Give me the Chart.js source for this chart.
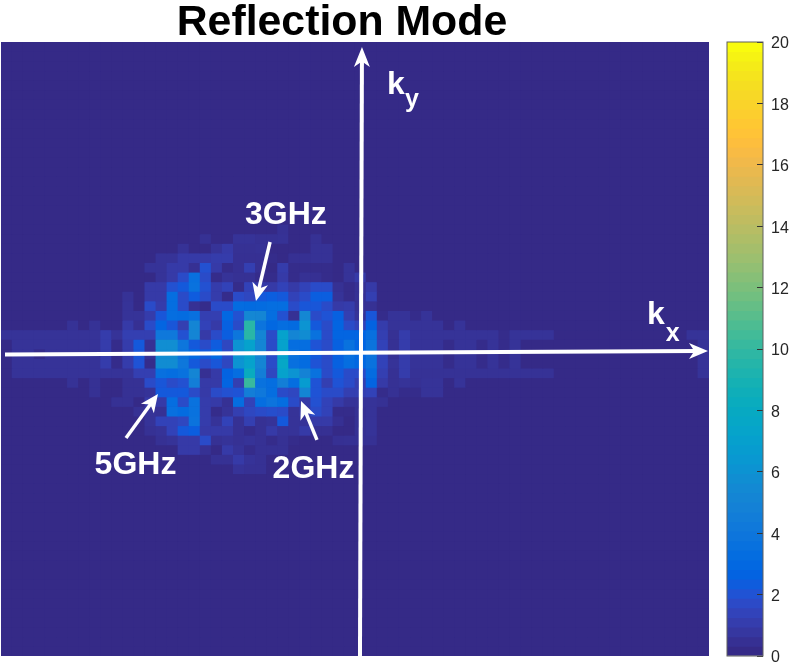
<!DOCTYPE html>
<html>
<head>
<meta charset="utf-8">
<title>Reflection Mode</title>
<script src="https://cdn.jsdelivr.net/npm/chart.js@4"></script>
<style>
  body { margin: 0; background: #fff; }
  #heat { position: absolute; left: 0; top: 0; }
  #bar { position: absolute; left: 700px; top: 0; }
</style>
</head>
<body>
<canvas id="heat" width="789" height="665"></canvas>
<canvas id="bar" width="89" height="665"></canvas>
<script>
const gridSize = 64;
const maxValue = 20;
const colorTicks = [0, 2, 4, 6, 8, 10, 12, 14, 16, 18, 20];

// non-zero part of the 64x64 picture: first row, first column of each row, values
const firstRow = 19;
const rowStarts = [25, 18, 16, 14, 13, 14, 13, 11, 11, 11, 6, 0, 0, 0, 0, 0, 6, 8, 10, 12, 13, 13, 14, 16, 19, 21];
const rowValues = [
  [.34],
  [.34, 0, 0, .42, .42, .34, .34, .38, 0, 0, .34],
  [.38, 0, 0, .42, .8, .34, .34, .38, 0, 0, 0, 0, .38, .38],
  [.42, .42, .8, .8, .8, .9, .9, .3, .3, .3, .1, 0, .3, .3, .38, .38],
  [.42, .42, .8, .8, .3, 1.8, .8, .1, .3, 1.05, .3, 0, .9, .1, .1, .1, .1, 0, .42],
  [.42, .8, 1.6, 3.4, 1.6, .1, .42, .34, .34, .1, .1, .8, .1, .34, .3, .1, 0, .42, .8],
  [.8, .8, 1.8, 2.1, 3.5, 1.8, .9, 1.2, .1, 1.2, .8, .8, 1.2, .8, 1.2, 1.6, 1.6, .34, .1, .34, .8],
  [.38, 0, .8, .8, 3.2, 1.6, 2.2, 1.6, .9, .1, 1.6, 1.4, 2.1, 2.3, 2.1, 1.2, 1.6, 2.3, 2.3, .42, .1, .34, 1.05],
  [.42, 0, 1.6, .9, 3.2, 1.6, .34, .1, 1.6, 1.6, 3.1, 3, 3.1, 3.2, 3.2, 1.6, 2, 2, 1.6, .8, .9, .34, .34],
  [.42, .42, .9, 2, 3.2, 3.1, 3.4, 1.05, 1.05, 2.8, 1.8, 5.2, 5, 3.2, 1.8, .34, 5.2, 1.6, 1.9, 2.4, 1.05, .42, 2, .1, .42, .42, .1, .42],
  [.38, 0, .38, 0, 0, .8, .3, 1.6, 2.6, 2, 1.05, 5, 1.2, .8, 2.4, 1.6, 9.5, 3.7, 2.8, 3.2, 3, 6, 2.1, 1.6, 2.6, 1.6, 1.2, 2.5, .9, .42, .42, .42, .42, .42, 0, .42],
  [.42, .42, .42, .42, .42, .42, .42, .42, .42, .9, .42, 1.05, 1.05, 1.05, 4, 4, 1.8, 5, .8, 1.6, 2.3, 3.8, 9.5, 5, 1.6, 7, 5, 5.5, 3.5, 1.6, 2.6, 2.6, 2.6, 3.4, 1.05, .34, .9, .42, .42, .42, .42, .42, .42, .42, .42, .1, .42, .42, .42, .42, 0, 0, 0, 0, 0, 0, 0, 0, 0, 0, 0, 0, .42, .42],
  [0, .42, .42, .42, .42, .42, .42, .42, .42, .9, .1, .9, 2.1, .34, 5.6, 5.6, 3.8, 2.1, 1.6, 2.2, 1.4, 6, 7, 5, 1.6, 7, 3.2, 3.2, 1.9, 1.6, 2.4, 3.5, 2.6, 3.6, 1.2, .34, .9, .42, .42, .42, .1, .42, .42, .1, .42, .1, .42, 0, 0, 0, 0, 0, 0, 0, 0, 0, 0, 0, 0, 0, 0, 0, 0, .42],
  [0, .42, .42, .1, .42, .42, .42, .42, .42, .9, .1, .9, 2, .34, 5.5, 5.5, 3.7, 2.9, 2.1, 2.9, 1.6, 6, 7, 5, 1.6, 7, 3.6, 3.2, 2.1, 1.6, 2.4, 3.4, 2.8, 3.6, 1.2, .34, .9, .42, .42, .42, .1, .42, .42, .1, .42, .1, .42, 0, 0, 0, 0, 0, 0, 0, 0, 0, 0, 0, 0, 0, 0, 0, 0, .42],
  [0, .42, .42, .42, .42, .42, .42, .42, .42, .9, .1, .9, 1.9, .1, 5.5, 5.5, 3.9, 2.1, 1.6, 2, 1.4, 6, 7, 5, 1.6, 7.5, 3.4, 3.1, 1.9, 1.6, 2.4, 3.2, 2.8, 3.5, 1.2, .42, .9, .42, .42, .42, .1, .42, .42, .1, .42, .1, .42, 0, 0, 0, 0, 0, 0, 0, 0, 0, 0, 0, 0, 0, 0, 0, 0, .42],
  [0, .42, .42, .42, .42, .42, .42, .42, .42, .42, .42, .42, 1.05, 1.05, 3.4, 3.2, 3.5, 5, .3, .8, 2.5, 3.2, 8, 4.5, 1.4, 7, 6, 4.8, 3.5, 1.6, 2.1, 1.6, 1.6, 3.1, 1.05, .34, .9, .38, .38, .38, .38, .38, .38, .38, .38, .38, .38, .38, .38, .38, 0, 0, 0, 0, 0, 0, 0, 0, 0, 0, 0, 0, 0, .42],
  [.38, 0, .34, 0, 0, .34, .34, 1.6, 2, 1.6, 1.8, 4.5, .8, .8, 2.6, 1.05, 10, 3.5, 3.2, 4.5, 3.2, 6.5, 1.9, 1.05, 1.9, 1.6, 1.05, 2.6, .8, .34, .42, .34, .42, .42, 0, .42],
  [.34, 0, 0, .34, .34, .42, 2.1, 2.1, 2.1, 1.6, .8, 1.6, 1.8, 1.9, 4.5, 4, 3.2, 1.6, 1.4, 5, 1.9, 1.6, 1.6, 1.05, 1.05, 1.2, .1, .34, .1, .1, .42, .42],
  [.34, .34, 0, .8, .8, 3.2, 1.6, 3.5, .9, .8, .34, 3.2, 1.2, 3.2, 3.7, 3.2, 1.6, .8, 1.8, 1.2, .8, .42, .42, .42, .34],
  [.34, .42, .34, 3.4, 3.1, 3.5, .9, .1, .42, 1.05, 1.4, 1.6, 1.7, 1.6, .42, .8, 1.6, 1.2, .1, .1, .34, .42],
  [.42, 1.2, 1.2, 1.4, 3.6, .9, .42, 1.2, .34, 1.05, .34, .42, 2.1, .42, .42, .8, .8, .3, 0, .34, .42],
  [.34, .42, 1.2, 2.1, 2.3, .8, .8, .8, .34, .1, .34, .8, .42, .42, .8, .3, .3, 0, 0, .34, .42],
  [.34, .42, .8, .8, 1.6, .34, .42, .34, .42, .34, .1, .34, .1, 0, 0, 0, .3, .34, .34, .34],
  [.8, .8, .34, 0, .8, .42, .1, .34, .34, .34],
  [.34, .34, .8, .42, .34],
  [.42, .34, .34]
];

// MATLAB parula, 64 steps
const parula = [
  [.2081,.1663,.5292],[.2116,.1898,.5777],[.2123,.2138,.6270],[.2081,.2386,.6771],
  [.1959,.2645,.7279],[.1707,.2919,.7792],[.1253,.3242,.8303],[.0591,.3598,.8683],
  [.0117,.3875,.8820],[.0060,.4086,.8828],[.0165,.4266,.8786],[.0329,.4430,.8720],
  [.0498,.4586,.8641],[.0629,.4737,.8554],[.0723,.4887,.8467],[.0779,.5040,.8384],
  [.0793,.5200,.8312],[.0749,.5375,.8263],[.0641,.5570,.8240],[.0488,.5772,.8228],
  [.0343,.5966,.8199],[.0265,.6137,.8135],[.0239,.6287,.8038],[.0231,.6418,.7913],
  [.0228,.6535,.7768],[.0267,.6642,.7607],[.0384,.6743,.7436],[.0590,.6838,.7254],
  [.0843,.6928,.7062],[.1133,.7015,.6859],[.1453,.7098,.6646],[.1801,.7177,.6424],
  [.2178,.7250,.6193],[.2586,.7317,.5954],[.3022,.7376,.5712],[.3482,.7424,.5473],
  [.3953,.7459,.5244],[.4420,.7481,.5033],[.4871,.7491,.4840],[.5300,.7491,.4661],
  [.5709,.7485,.4494],[.6099,.7473,.4337],[.6473,.7456,.4188],[.6834,.7435,.4044],
  [.7184,.7411,.3905],[.7525,.7384,.3768],[.7858,.7356,.3633],[.8185,.7327,.3498],
  [.8507,.7299,.3360],[.8824,.7274,.3217],[.9139,.7258,.3063],[.9450,.7261,.2886],
  [.9739,.7314,.2666],[.9938,.7455,.2403],[.9990,.7653,.2164],[.9955,.7861,.1967],
  [.9880,.8066,.1794],[.9789,.8271,.1633],[.9697,.8481,.1475],[.9626,.8705,.1309],
  [.9589,.8949,.1132],[.9598,.9218,.0948],[.9661,.9514,.0755],[.9763,.9831,.0538]
];

function rgb(c) {
  return "rgb(" + c.map(v => Math.round(v * 255)).join(",") + ")";
}

// the reference is a resampled image, so colours sit between the palette steps
function colorFor(v) {
  const pos = Math.min(gridSize - 1.001, v / maxValue * gridSize);
  const i = Math.floor(pos);
  return rgb(parula[i].map((p, k) => p + (parula[i + 1][k] - p) * (pos - i)));
}

function valueAt(row, col) {
  const values = rowValues[row - firstRow];
  if (!values) return 0;
  return values[col - rowStarts[row - firstRow]] || 0;
}

const columns = [];
for (let c = 0; c < gridSize; c++) columns.push(String(c));

const heatSets = [];
for (let r = 0; r < gridSize; r++) {
  heatSets.push({
    data: columns.map(() => [r, r + 1]),
    backgroundColor: columns.map((name, c) => colorFor(valueAt(r, c))),
    borderWidth: 0,
    barPercentage: 1,
    categoryPercentage: 1,
    grouped: false
  });
}

// annotations, in grid units along the two axes
const axisArrows = [
  { from: [0.36, 32.57], to: [63.91, 32.2], width: 4, head: 19, wing: 8 },
  { from: [32.45, 64], to: [32.63, 0.52], width: 4, head: 20, wing: 8 }
];
const noteArrows = [
  { from: [24.32, 20.85], to: [23.05, 27.0], width: 3.5, head: 18, wing: 8 },
  { from: [11.3, 41.28], to: [14.19, 36.69], width: 3.5, head: 18, wing: 8 },
  { from: [28.56, 41.48], to: [27.12, 37.42], width: 3.5, head: 18, wing: 8 }
];
const labels = [
  { text: "Reflection Mode", at: [30.82, -0.72], size: 42.8, color: "#000", align: "center" },
  { text: "3GHz", at: [25.76, 18.97], size: 32, color: "#fff", align: "center" },
  { text: "5GHz", at: [12.16, 45.03], size: 32, color: "#fff", align: "center" },
  { text: "2GHz", at: [28.25, 45.44], size: 32, color: "#fff", align: "center" },
  { text: "k", at: [58.4, 29.39], size: 32, color: "#fff", align: "left" },
  { text: "x", at: [60.1, 31.16], size: 25, color: "#fff", align: "left" },
  { text: "k", at: [34.89, 5.42], size: 32, color: "#fff", align: "left" },
  { text: "y", at: [36.52, 6.77], size: 25, color: "#fff", align: "left" }
];

const heatDecor = {
  id: "heatDecor",
  beforeDatasetsDraw(chart) {
    const a = chart.chartArea;
    chart.ctx.fillStyle = rgb(parula[0]);
    chart.ctx.fillRect(a.left, a.top, a.right - a.left, a.bottom - a.top);
  },
  afterDraw(chart) {
    const ctx = chart.ctx;
    const px = p => [chart.scales.x.getPixelForValue(p[0] - 0.5), chart.scales.y.getPixelForValue(p[1])];

    axisArrows.concat(noteArrows).forEach(arrow => {
      const [x1, y1] = px(arrow.from);
      const [x2, y2] = px(arrow.to);
      const angle = Math.atan2(y2 - y1, x2 - x1);
      const len = Math.hypot(x2 - x1, y2 - y1);
      ctx.save();
      ctx.translate(x2, y2);
      ctx.rotate(angle);
      ctx.fillStyle = "#fff";
      ctx.fillRect(-len, -arrow.width / 2, len - arrow.head / 2, arrow.width);
      ctx.beginPath();
      ctx.moveTo(0, 0);
      ctx.lineTo(-arrow.head, -arrow.wing);
      ctx.lineTo(-arrow.head * 0.72, 0);
      ctx.lineTo(-arrow.head, arrow.wing);
      ctx.closePath();
      ctx.fill();
      ctx.restore();
    });

    labels.forEach(l => {
      const [x, y] = px(l.at);
      ctx.font = "bold " + l.size + "px 'Liberation Sans'";
      ctx.fillStyle = l.color;
      ctx.textAlign = l.align;
      ctx.textBaseline = "alphabetic";
      ctx.fillText(l.text, x, y);
    });
  }
};

new Chart(document.getElementById("heat"), {
  type: "bar",
  data: { labels: columns, datasets: heatSets },
  options: {
    responsive: false,
    animation: false,
    layout: { padding: { left: 1, right: 80, top: 42, bottom: 9 } },
    plugins: { legend: { display: false }, tooltip: { enabled: false } },
    scales: {
      x: { display: false },
      y: { display: false, min: 0, max: gridSize, reverse: true }
    }
  },
  plugins: [heatDecor]
});

// colour bar: one step per palette entry, later steps painted over earlier ones
const barSets = parula.map((c, i) => ({
  data: [[i * maxValue / gridSize, maxValue]],
  backgroundColor: rgb(c),
  borderWidth: 0,
  barPercentage: 1,
  categoryPercentage: 1,
  grouped: false,
  order: -i
}));

const barFrame = {
  id: "barFrame",
  afterDraw(chart) {
    const a = chart.chartArea;
    chart.ctx.strokeStyle = "#5f5f5f";
    chart.ctx.lineWidth = 1;
    chart.ctx.strokeRect(a.left, a.top, a.right - a.left, a.bottom - a.top);
  }
};

new Chart(document.getElementById("bar"), {
  type: "bar",
  data: { labels: ["levels"], datasets: barSets },
  options: {
    responsive: false,
    animation: false,
    layout: { padding: { left: 27, right: 0, top: 42, bottom: 9 } },
    plugins: { legend: { display: false }, tooltip: { enabled: false } },
    scales: {
      x: { display: false },
      y: {
        position: "right",
        min: 0,
        max: maxValue,
        afterBuildTicks: scale => { scale.ticks = colorTicks.map(v => ({ value: v })); },
        afterFit: scale => { scale.width = 26; scale.paddingTop = 0; scale.paddingBottom = 0; },
        border: { display: false },
        grid: { z: 1, drawOnChartArea: false, tickLength: -6, color: "#333", lineWidth: 1 },
        ticks: { padding: 14, labelOffset: 2, color: "#262626", font: { family: "'Liberation Sans'", size: 16 } }
      }
    }
  },
  plugins: [barFrame]
});
</script>
</body>
</html>
